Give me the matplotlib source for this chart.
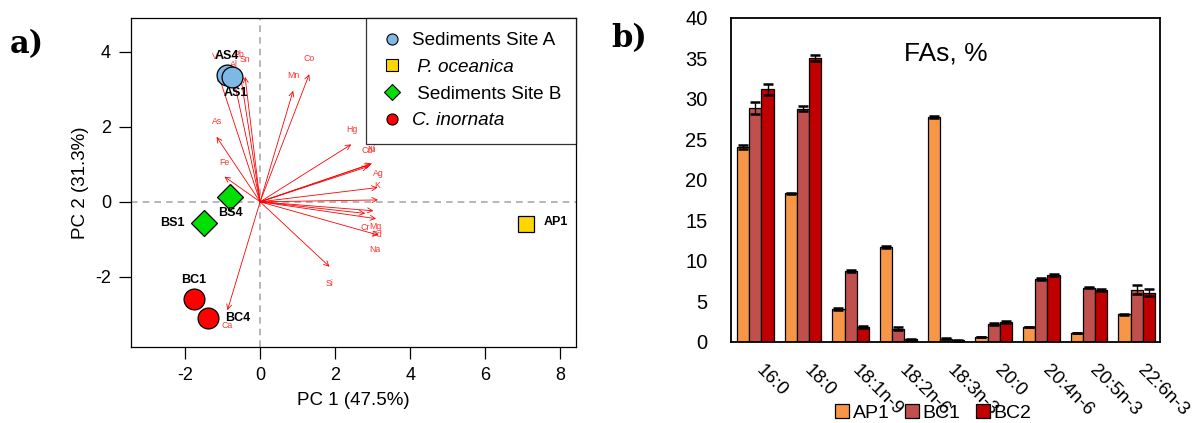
import numpy as np
import matplotlib
matplotlib.use("Agg")
import matplotlib.pyplot as plt

plt.rcParams['font.family'] = ['Liberation Sans', 'DejaVu Sans']
plt.rcParams['axes.unicode_minus'] = False

# ---- panel a: PCA biplot ----
sample_names = ["AS4", "AS1", "AP1", "BS4", "BS1", "BC1", "BC4"]
sample_group = ["A", "A", "P", "B", "B", "C", "C"]
pc1 = [-0.88, -0.74, 7.09, -0.80, -1.49, -1.76, -1.40]
pc2 = [3.38, 3.33, -0.58, 0.13, -0.56, -2.58, -3.11]

groups = ["A", "P", "B", "C"]
group_labels = ["Sediments Site A", " P. oceanica", " Sediments Site B", "C. inornata"]
group_colors = ["#7EB8E6", "#FFD700", "#00E000", "#FF0000"]
group_markers = ["o", "s", "D", "o"]

# variable loadings (arrow tips) and their label positions
var_names = ["Co", "Mn", "Hg", "Cd", "Ni", "Ag", "K", "", "Cr", "Mg", "Pd", "Na",
             "Si", "Ca", "As", "Fe", "V", "Al", "Pb", "Sn"]
var_x = [1.31, 0.88, 2.43, 2.95, 2.98, 2.88, 3.13, 3.14, 2.80, 3.02, 3.09, 3.16,
         1.85, -0.87, -1.16, -0.95, -1.11, -0.71, -0.53, -0.40]
var_y = [3.40, 2.96, 1.53, 1.00, 1.02, 0.94, 0.38, 0.05, -0.31, -0.24, -0.45, -0.89,
         -1.73, -2.89, 1.73, 0.67, 3.38, 3.30, 3.42, 3.33]
lab_x = [1.30, 0.89, 2.45, 2.84, 2.98, 3.14, 3.12, 3.6, 2.80, 3.07, 3.11, 3.07,
         1.85, -0.89, -1.14, -0.95, -1.20, -0.71, -0.58, -0.40]
lab_y = [3.82, 3.38, 1.94, 1.36, 1.39, 0.76, 0.44, 0.06, -0.69, -0.65, -0.86, -1.26,
         -2.18, -3.31, 2.13, 1.05, 3.87, 3.65, 3.93, 3.78]

# ---- panel b: fatty acids ----
fa_names = ["16:0", "18:0", "18:1n-9", "18:2n-6", "18:3n-3", "20:0", "20:4n-6", "20:5n-3", "22:6n-3"]
ap1 = [24.1, 18.35, 4.1, 11.7, 27.75, 0.62, 1.86, 1.1, 3.42]
bc1 = [28.9, 28.8, 8.8, 1.65, 0.41, 2.19, 7.75, 6.72, 6.47]
bc2 = [31.2, 35.05, 1.85, 0.33, 0.2, 2.47, 8.25, 6.39, 6.1]
ap1_sd = [0.25, 0.1, 0.1, 0.1, 0.1, 0.05, 0.05, 0.05, 0.05]
bc1_sd = [0.7, 0.3, 0.1, 0.15, 0.05, 0.1, 0.15, 0.1, 0.6]
bc2_sd = [0.7, 0.4, 0.1, 0.05, 0.05, 0.1, 0.15, 0.1, 0.45]
bar_colors = ["#F79646", "#C0504D", "#C00000"]

fig = plt.figure(figsize=(12.01, 4.23), dpi=100)

ax = fig.add_axes([0.1091, 0.1797, 0.3705, 0.7778])
ax.axhline(0, color="#aaaaaa", ls="--", lw=1.2, dashes=(4, 3), zorder=0)
ax.axvline(0, color="#aaaaaa", ls="--", lw=1.2, dashes=(4, 3), zorder=0)

for i in range(len(var_names)):
    ax.annotate("", xy=(var_x[i], var_y[i]), xytext=(0, 0),
                arrowprops=dict(arrowstyle="->", color="red", lw=0.6,
                                mutation_scale=9, shrinkA=0, shrinkB=0), zorder=2)
    if var_names[i]:
        ax.text(lab_x[i], lab_y[i], var_names[i], color="red", fontsize=6.3,
                ha="center", va="center", alpha=0.8, zorder=2)

for g, c, m in zip(groups, group_colors, group_markers):
    xs = [pc1[k] for k in range(len(pc1)) if sample_group[k] == g]
    ys = [pc2[k] for k in range(len(pc2)) if sample_group[k] == g]
    ms = {"o": 15, "s": 12, "D": 13}[m]
    ax.plot(xs, ys, ls="none", marker=m, ms=ms, mfc=c, mec="black", mew=0.9, zorder=3)

# point labels
offsets = {"AS4": (0, 0.5), "AS1": (0.1, -0.42), "AP1": (0.8, 0.05), "BS4": (0.0, -0.44),
           "BS1": (-0.85, 0.0), "BC1": (0.0, 0.5), "BC4": (0.8, 0.0)}
for n, x, y in zip(sample_names, pc1, pc2):
    dx, dy = offsets[n]
    ax.text(x + dx, y + dy, n, fontsize=9, fontweight="bold", ha="center", va="center", zorder=4)

ax.set_xlim(-3.44, 8.42)
ax.set_ylim(-3.87, 4.9)
ax.set_xticks([-2, 0, 2, 4, 6, 8])
ax.set_yticks([-2, 0, 2, 4])
ax.tick_params(direction="out", length=8.5, width=0.9, labelsize=13, pad=6)
for s in ax.spines.values():
    s.set_linewidth(0.9)
ax.set_xlabel("PC 1 (47.5%)", fontsize=13.5, labelpad=6)
ax.set_ylabel("PC 2 (31.3%)", fontsize=13.5, labelpad=4)

handles = [plt.Line2D([], [], ls="none", marker=m, ms=8, mfc=c, mec="black", mew=0.8)
           for c, m in zip(group_colors, group_markers)]
leg = ax.legend(handles, group_labels, loc="upper right", fontsize=13.6, frameon=True,
                fancybox=False, edgecolor="black", borderaxespad=0, handletextpad=0.5,
                labelspacing=0.5, borderpad=0.75, handlelength=1.2)
leg.get_frame().set_linewidth(0.9)
leg.get_texts()[1].set_style("italic")
leg.get_texts()[3].set_style("italic")

# ---- bar chart ----
bx = fig.add_axes([0.6087, 0.1915, 0.3572, 0.766])
pos = np.arange(len(fa_names))
w = 0.256
series = [("AP1", ap1, ap1_sd), ("BC1", bc1, bc1_sd), ("BC2", bc2, bc2_sd)]
for j, (name, vals, sd) in enumerate(series):
    bx.bar(pos + (j - 1) * w, vals, width=w, color=bar_colors[j], edgecolor="black",
           lw=0.9, yerr=sd, capsize=3.8,
           error_kw=dict(ecolor="black", elinewidth=1, capthick=1.8), label=name)

bx.set_xlim(-0.51, 8.49)
bx.set_ylim(0, 40)
bx.set_yticks(range(0, 41, 5))
bx.set_xticks(pos - 0.05)
bx.set_xticklabels(fa_names, rotation=-45, ha="left", va="top", fontsize=13.5)
bx.tick_params(axis="y", length=0, labelsize=14.5, pad=17)
bx.tick_params(axis="x", length=0, pad=14)
for s in bx.spines.values():
    s.set_linewidth(1.3)
bx.text(0.5, 0.89, "FAs, %", transform=bx.transAxes, fontsize=19, ha="center", va="center")

fig.legend(loc="center", bbox_to_anchor=(0.777, 0.024), ncol=3, fontsize=14,
           frameon=False, handlelength=0.7, handleheight=0.7, handletextpad=0.2,
           columnspacing=0.8, borderpad=0)

fig.text(0.008, 0.894, "a)", fontsize=22, fontweight="bold", family="DejaVu Serif",
         ha="left", va="center")
fig.text(0.509, 0.91, "b)", fontsize=22, fontweight="bold", family="DejaVu Serif",
         ha="left", va="center")

fig.savefig("out.png", dpi=100)
